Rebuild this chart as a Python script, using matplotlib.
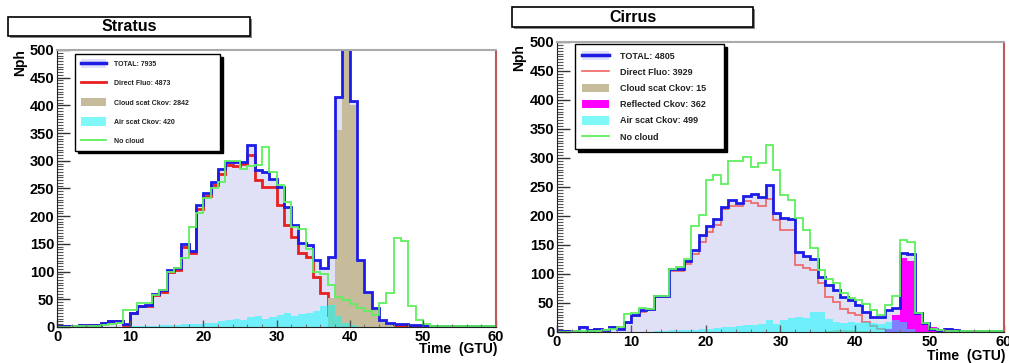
import numpy as np
import matplotlib
matplotlib.use('Agg')
import matplotlib.pyplot as plt
from matplotlib.patches import Patch, Rectangle
from matplotlib.lines import Line2D
from matplotlib.ticker import MultipleLocator

plt.rcParams['font.family'] = ['Liberation Sans', 'DejaVu Sans']
plt.rcParams['font.weight'] = 'bold'

# 1 GTU bins, 0..60
edges = np.arange(61)

# ---- Stratus ----
strat_total = [1, 1, 2, 3, 3, 3, 7, 11, 10, 5, 26, 38, 39, 60, 67, 103, 107, 150, 138, 220,
               242, 262, 285, 298, 298, 298, 328, 283, 280, 268, 253, 217, 184, 151, 148, 121, 106, 127, 415, 1810,
               408, 121, 64, 34, 13, 8, 6, 5, 4, 3, 2, 2, 2, 1, 1, 1, 1, 1, 1, 1]
strat_fluo = [1, 1, 2, 3, 3, 3, 7, 11, 10, 4, 25, 37, 37, 58, 64, 100, 103, 145, 133, 213,
              236, 256, 277, 292, 290, 295, 310, 265, 252, 253, 220, 184, 163, 133, 127, 91, 61, 22, 8, 4,
              3, 2, 2, 1, 1, 1, 1, 1, 1, 1, 1, 1, 1, 1, 1, 1, 1, 1, 1, 1]
strat_cloud = [0] * 37 + [52, 355, 1790, 400, 121, 64, 34, 10, 5] + [0] * 14
strat_air = [0] * 10 + [1, 1, 2, 2, 3, 3, 4, 5, 5, 6, 7, 8, 10, 12, 14, 12, 18, 20, 15, 18,
                        22, 25, 20, 24, 26, 28, 38, 40, 20, 8, 3] + [0] * 19
strat_nocloud = [0, 0, 1, 1, 2, 2, 4, 6, 8, 31, 31, 43, 43, 58, 67, 100, 106, 124, 181, 205,
                 232, 250, 262, 300, 300, 285, 290, 292, 324, 280, 256, 225, 180, 176, 140, 100, 95, 75, 55, 48,
                 42, 35, 28, 22, 43, 61, 160, 155, 37, 12, 5, 2, 1, 1, 1, 1, 1, 1, 1, 1]
strat_labels = ['TOTAL: 7935', 'Direct Fluo: 4873', 'Cloud scat Ckov: 2842',
                'Air scat Ckov: 420', 'No cloud']

# ---- Cirrus ----
cirr_total = [1, 1, 2, 8, 3, 5, 3, 8, 6, 18, 29, 38, 39, 62, 62, 108, 108, 123, 142, 167,
              183, 195, 215, 228, 222, 235, 238, 233, 253, 205, 196, 194, 138, 131, 125, 95, 81, 72, 61, 55,
              47, 35, 26, 25, 38, 41, 137, 134, 33, 15, 6, 4, 5, 3, 2, 2, 1, 1, 1, 1]
cirr_fluo = [1, 1, 2, 8, 3, 5, 3, 8, 6, 15, 27, 35, 38, 60, 60, 105, 105, 118, 135, 155,
             172, 185, 212, 218, 218, 225, 222, 218, 230, 193, 176, 176, 116, 110, 107, 84, 60, 52, 40, 32,
             30, 18, 10, 5, 3, 2, 1, 1, 1, 1, 1, 1, 1, 1, 1, 1, 1, 1, 1, 1]
cirr_cloud = [0] * 36 + [2, 3, 4, 3, 2, 1] + [0] * 18
cirr_refl = [0] * 44 + [5, 30, 128, 122, 35, 15, 9, 6, 7, 5] + [0] * 6
cirr_air = [0] * 13 + [2, 2, 3, 3, 4, 4, 5, 5, 7, 8, 9, 10, 12, 12, 14, 21, 14, 21, 24, 26, 24, 35, 35,
                       22, 18, 15, 18, 16, 18, 16, 14, 18, 20, 18, 5] + [0] * 12
cirr_nocloud = [0, 0, 1, 1, 2, 2, 4, 5, 8, 31, 32, 42, 40, 62, 62, 108, 112, 125, 182, 201,
                262, 271, 255, 294, 294, 302, 284, 292, 323, 280, 236, 228, 196, 176, 144, 107, 92, 85, 67, 58,
                55, 49, 38, 29, 46, 62, 159, 156, 32, 15, 5, 3, 2, 1, 1, 1, 1, 1, 1, 1]
cirr_labels = ['TOTAL: 4805', 'Direct Fluo: 3929', 'Cloud scat Ckov: 15',
               'Reflected Ckov: 362', 'Air scat Ckov: 499', 'No cloud']

LAV = '#e0e0f6'
BLUE = '#1c1ce6'
TAN = '#c6bb9a'
MAG = '#ff00ff'
CYAN = '#00ffff'
GREEN = '#5ef05e'


def draw_panel(ax, total, fluo, cloud, air, nocloud, refl=None, red='#e82020', red_lw=2.0):
    ax.stairs(total, edges, fill=True, color=LAV, lw=0)
    ax.stairs(fluo, edges, color=red, lw=red_lw)
    ax.stairs(cloud, edges, fill=True, color=TAN, lw=0)
    if refl is not None:
        ax.stairs(refl, edges, fill=True, color=MAG, lw=0)
    ax.stairs(air, edges, fill=True, color=CYAN, alpha=0.5, lw=0)
    ax.stairs(total, edges, color=BLUE, lw=2.0)
    ax.stairs(nocloud, edges, color=GREEN, lw=1.3)

    ax.set_xlim(0, 60)
    ax.set_ylim(0, 500)
    ax.xaxis.set_major_locator(MultipleLocator(10))
    ax.xaxis.set_minor_locator(MultipleLocator(2))
    ax.yaxis.set_major_locator(MultipleLocator(50))
    ax.yaxis.set_minor_locator(MultipleLocator(5))
    ax.tick_params(axis='both', which='both', direction='in', labelsize=10.5, pad=2)
    ax.tick_params(axis='y', which='major', length=9, width=1, color='#333333')
    ax.tick_params(axis='y', which='minor', length=4.5, width=0.8, color='#555555')
    ax.tick_params(axis='x', which='major', length=5, width=1, color='#555555')
    ax.tick_params(axis='x', which='minor', length=2.5, width=0.8, color='#777777')
    for lab in ax.get_xticklabels() + ax.get_yticklabels():
        lab.set_fontweight('bold')
    ax.spines['top'].set_color('#aaaaaa')
    ax.spines['top'].set_linewidth(1.5)
    ax.spines['right'].set_color('#c05a5a')
    ax.spines['right'].set_linewidth(1.5)
    ax.spines['left'].set_color('#222222')
    ax.spines['bottom'].set_color('#222222')


def make_legend(ax, labels, has_refl, bbox, fs, spacing, hlen, hheight, red='#e82020', red_lw=2.0):
    handles = [(Patch(facecolor=LAV, edgecolor='none'), Line2D([], [], color=BLUE, lw=2.5)),
               Line2D([], [], color=red, lw=red_lw),
               Patch(facecolor=TAN, edgecolor='none')]
    if has_refl:
        handles.append(Patch(facecolor=MAG, edgecolor='none'))
    handles.append(Patch(facecolor='#80f8f8', edgecolor='none'))
    handles.append(Line2D([], [], color=GREEN, lw=1.3))
    leg = ax.legend(handles, labels, loc='upper left', bbox_to_anchor=bbox, mode='expand',
                    borderaxespad=0, fancybox=False, shadow={'color': 'black', 'alpha': 1},
                    prop={'size': fs, 'weight': 'bold'}, labelspacing=spacing,
                    handlelength=hlen, handleheight=hheight, handletextpad=1.2,
                    borderpad=0.8, framealpha=1)
    leg.get_frame().set_edgecolor('black')
    leg.get_frame().set_linewidth(1.0)
    for t in leg.get_texts():
        t.set_color('#222222')


def title_box(fig, x0, y0, w, h, text):
    W, H = 1009.0, 363.0
    fig.patches.append(Rectangle(((x0 + 2) / W, 1 - (y0 + h + 2) / H), w / W, h / H,
                                 transform=fig.transFigure, facecolor='#888888', edgecolor='none'))
    fig.patches.append(Rectangle((x0 / W, 1 - (y0 + h) / H), w / W, h / H,
                                 transform=fig.transFigure, facecolor='white', edgecolor='black', lw=1.2))
    fig.text((x0 + w / 2) / W, 1 - (y0 + h / 2) / H, text, ha='center', va='center',
             fontsize=11.5, fontweight='bold')


fig = plt.figure(figsize=(10.09, 3.63), dpi=100)
ax1 = fig.add_axes([0.0565, 0.0992, 0.4351, 0.7631])
ax2 = fig.add_axes([0.552, 0.0854, 0.443, 0.7989])

draw_panel(ax1, strat_total, strat_fluo, strat_cloud, strat_air, strat_nocloud)
make_legend(ax1, strat_labels, False, (0.041, 0.65, 0.33, 0.336), 5, 1.55, 3.6, 1.5)

draw_panel(ax2, cirr_total, cirr_fluo, cirr_cloud, cirr_air, cirr_nocloud, refl=cirr_refl,
           red='#f06464', red_lw=1.2)
make_legend(ax2, cirr_labels, True, (0.04, 0.652, 0.334, 0.341), 6.5, 0.75, 3.0, 1.1,
            red='#f06464', red_lw=1.2)

for ax, nx, ny, ty in [(ax1, -0.084, 0.955, -0.055), (ax2, -0.085, 0.948, -0.06)]:
    ax.text(nx, ny, 'Nph', transform=ax.transAxes, rotation=90, ha='center', va='center',
            fontsize=10, fontweight='bold')
    ax.text(1.003, ty, 'Time  (GTU)', transform=ax.transAxes, ha='right', va='top',
            fontsize=10, fontweight='bold')

title_box(fig, 8, 17, 242, 19, 'Stratus')
title_box(fig, 512, 7, 241, 20, 'Cirrus')

fig.savefig('out.png', dpi=100)
